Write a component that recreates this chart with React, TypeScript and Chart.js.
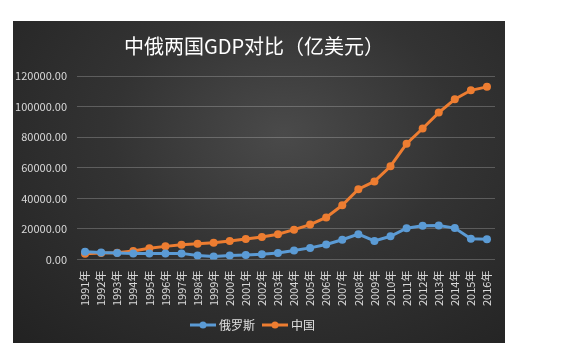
import React, { useEffect, useRef } from "react";
import { Chart, registerables } from "chart.js";

Chart.register(...registerables);

const years = ["1991年","1992年","1993年","1994年","1995年","1996年","1997年","1998年","1999年","2000年","2001年","2002年","2003年","2004年","2005年","2006年","2007年","2008年","2009年","2010年","2011年","2012年","2013年","2014年","2015年","2016年"];
const russia = [5100, 4600, 4350, 3950, 3950, 3920, 4050, 2710, 1960, 2600, 3070, 3450, 4300, 5910, 7640, 9900, 12990, 16600, 12220, 15250, 20510, 22100, 22300, 20600, 13650, 13300];
const china = [3834, 4269, 4447, 5643, 7345, 8637, 9617, 10290, 10940, 12113, 13394, 14705, 16602, 19553, 22860, 27521, 35500, 45982, 51100, 61010, 75730, 85700, 96070, 104820, 110650, 112900];
const seriesNames = ["俄罗斯", "中国"];
const yTicks = [0, 20000, 40000, 60000, 80000, 100000, 120000];

const BLUE = "#5B9BD5";
const ORANGE = "#ED7D31";
const FONT = "'Noto Sans CJK SC', 'Noto Sans', sans-serif";

function legendIcon(color: string) {
  const c = document.createElement("canvas");
  c.width = 26;
  c.height = 10;
  const ctx = c.getContext("2d")!;
  ctx.strokeStyle = color;
  ctx.lineWidth = 3;
  ctx.beginPath();
  ctx.moveTo(0, 5);
  ctx.lineTo(26, 5);
  ctx.stroke();
  ctx.fillStyle = color;
  ctx.beginPath();
  ctx.arc(13, 5, 3.5, 0, Math.PI * 2);
  ctx.fill();
  return c;
}

export default function App() {
  const ref = useRef<HTMLCanvasElement>(null);
  useEffect(() => {
    const icons = [legendIcon(BLUE), legendIcon(ORANGE)];
    const chart = new Chart(ref.current!, {
      type: "line",
      data: {
        labels: years,
        datasets: [
          { label: seriesNames[0], data: russia, borderColor: BLUE, backgroundColor: BLUE, borderWidth: 3, pointRadius: 4, pointBackgroundColor: BLUE, pointBorderWidth: 0, tension: 0 },
          { label: seriesNames[1], data: china, borderColor: ORANGE, backgroundColor: ORANGE, borderWidth: 3, pointRadius: 4, pointBackgroundColor: ORANGE, pointBorderWidth: 0, tension: 0 },
        ],
      },
      options: {
        animation: false,
        responsive: false,
        layout: { padding: { left: 0, right: 10, top: 8, bottom: 2 } },
        elements: { point: { pointStyle: "circle" } },
        plugins: {
          title: {
            display: true,
            text: "中俄两国GDP对比（亿美元）",
            color: "#ffffff",
            font: { family: FONT, size: 20, weight: "normal" },
            padding: { top: 5, bottom: 18 },
          },
          legend: {
            position: "bottom",
            labels: {
              color: "#e0e0e0",
              font: { family: FONT, size: 12 },
              usePointStyle: true,
              pointStyleWidth: 20,
              padding: 10,
              generateLabels: (ch: any) =>
                ch.data.datasets.map((ds: any, i: number) => ({
                  text: ds.label,
                  fillStyle: ds.borderColor,
                  strokeStyle: ds.borderColor,
                  fontColor: "#e0e0e0",
                  pointStyle: icons[i],
                  lineWidth: 0,
                  datasetIndex: i,
                  hidden: false,
                })),
            },
          },
          tooltip: { enabled: false },
        },
        scales: {
          x: {
            offset: true,
            grid: { display: false },
            border: { display: false },
            ticks: {
              color: "#d9d9d9",
              font: { family: FONT, size: 11 },
              maxRotation: 90,
              minRotation: 90,
              autoSkip: false,
            },
          },
          y: {
            min: 0,
            max: 120000,
            afterBuildTicks: (s: any) => {
              s.ticks = yTicks.map((v) => ({ value: v }));
            },
            afterFit: (s: any) => {
              s.width = 64;
            },
            grid: { color: "rgba(255,255,255,0.22)", lineWidth: 1, drawTicks: false },
            border: { display: false },
            ticks: {
              color: "#d9d9d9",
              font: { family: FONT, size: 11 },
              padding: 10,
              callback: (v: any) => Number(v).toFixed(2),
            },
          },
        },
      },
    });
    return () => chart.destroy();
  }, []);
  return (
    <div
      style={{
        position: "absolute",
        left: 13,
        top: 21,
        width: 492,
        height: 322,
        background: "radial-gradient(ellipse at 55% 35%, #4a4a4a 0%, #333333 45%, #222222 100%)",
      }}
    >
      <canvas ref={ref} width={492} height={322} />
    </div>
  );
}
